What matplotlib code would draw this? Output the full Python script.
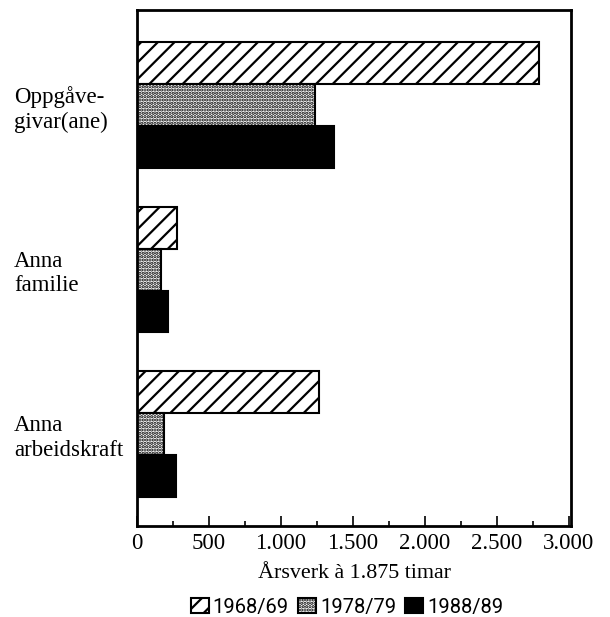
import matplotlib
matplotlib.use('Agg')
from matplotlib import pyplot as plt
import numpy as np

categories = ['Oppgåve-\ngivar(ane)', 'Anna\nfamilie', 'Anna\narbeidskraft']
years = ['1968/69', '1978/79', '1988/89']
v_1968 = [2790, 278, 1265]
v_1978 = [1236, 167, 188]
v_1988 = [1368, 215, 271]
xticks = [0, 500, 1000, 1500, 2000, 2500, 3000]
xticklabels = ['0', '500', '1.000', '1.500', '2.000', '2.500', '3.000']

plt.rcParams['font.family'] = ['Liberation Serif', 'DejaVu Serif']
plt.rcParams['hatch.linewidth'] = 1.6

fig = plt.figure(figsize=(6.10, 6.17), dpi=100)
ax = fig.add_axes([137/610, 1 - 526/617, 434/610, 516/617])

y = np.arange(len(categories))
h = 0.255
styles = [dict(facecolor='white', hatch='//'),
          dict(facecolor='white', hatch='.....'),
          dict(facecolor='black')]
for i, (vals, st) in enumerate(zip([v_1968, v_1978, v_1988], styles)):
    ax.barh(y + (i - 1) * h, vals, height=h, edgecolor='black', linewidth=1.5,
            label=years[i], **st)

ax.set_ylim(2.56, -0.58)
ax.set_xlim(0, 3014)
ax.set_yticks(y, categories)
ax.tick_params(axis='y', length=0, pad=88.5, labelsize=16.5)
for lbl in ax.get_yticklabels():
    lbl.set_horizontalalignment('left')
ax.set_xticks(xticks, xticklabels)
ax.set_xticks(np.arange(250, 3000, 500), minor=True)
ax.tick_params(axis='x', which='major', direction='in', length=7, width=1.2, labelsize=16.5, pad=5)
ax.tick_params(axis='x', which='minor', direction='in', length=3.5, width=1.2)
for s in ax.spines.values():
    s.set_linewidth(2)
ax.set_xlabel('Årsverk à 1.875 timar', fontsize=15.8, labelpad=7)

ax.legend(loc='center', bbox_to_anchor=(347/610, 1 - 607/617), bbox_transform=fig.transFigure,
          ncol=3, frameon=False, handlelength=0.9, handleheight=0.8,
          handletextpad=0.2, columnspacing=0.45,
          prop={'family': ['Roboto', 'DejaVu Sans'], 'size': 14.5})

fig.savefig('out.png', dpi=100)
